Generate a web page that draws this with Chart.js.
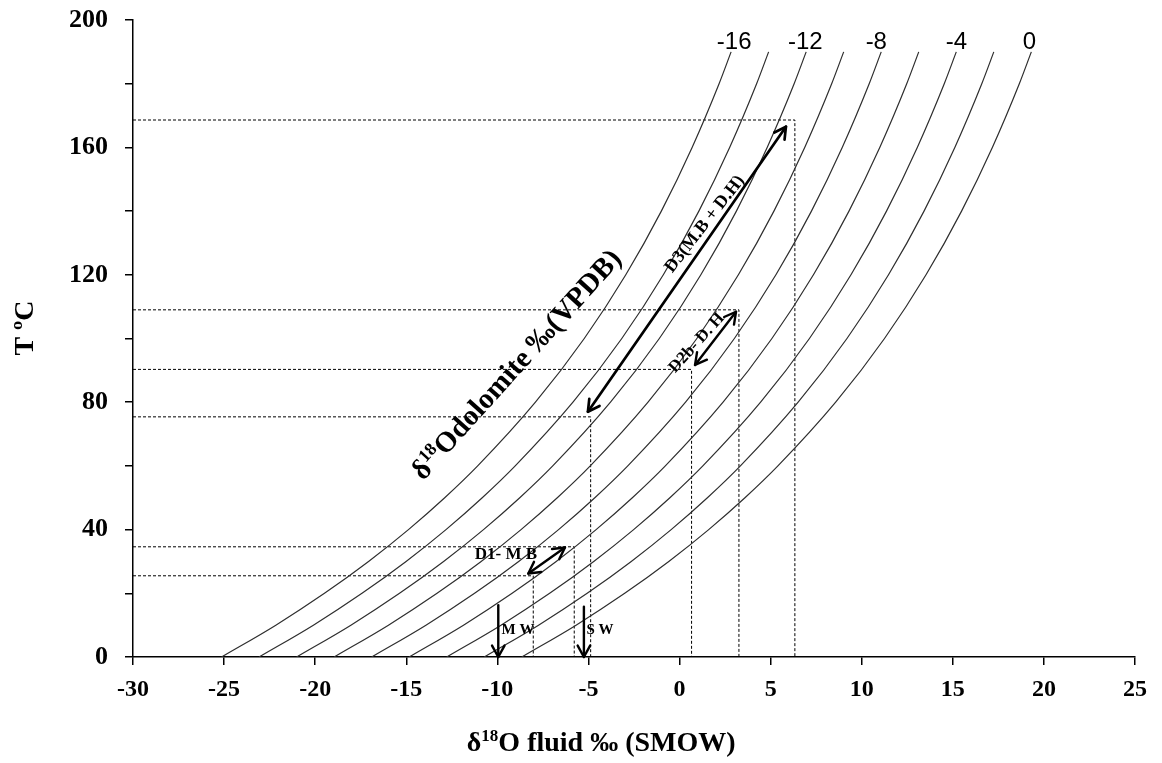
<!DOCTYPE html>
<html>
<head>
<meta charset="utf-8">
<script src="https://cdn.jsdelivr.net/npm/chart.js@4.4.1/dist/chart.umd.min.js"></script>
<style>
html, body { margin: 0; padding: 0; background: #fff; }
#wrap { width: 1162px; height: 763px; position: relative; }
</style>
</head>
<body>
<div id="wrap"><canvas id="chart"></canvas></div>
<script>
// temperature steps (°C) for the dolomite-water curves
const tempC = [0, 10, 20, 30, 40, 50, 60, 80, 100, 120, 140, 160, 180, 190];

// δ18O fluid (SMOW) read along each δ18O dolomite (VPDB) curve
const fluidDolM16 = [-25.14, -22.16, -19.49, -17.07, -14.88, -12.89, -11.08, -7.91, -5.23, -2.95, -1.00, 0.69, 2.17, 2.83];
const fluidDolM14 = [-23.08, -20.10, -17.43, -15.01, -12.82, -10.83, -9.02, -5.85, -3.17, -0.89, 1.06, 2.75, 4.23, 4.89];
const fluidDolM12 = [-21.02, -18.04, -15.37, -12.95, -10.76, -8.77, -6.96, -3.79, -1.11, 1.17, 3.12, 4.81, 6.29, 6.95];
const fluidDolM10 = [-18.96, -15.98, -13.31, -10.89, -8.70, -6.71, -4.90, -1.73, 0.95, 3.23, 5.18, 6.87, 8.35, 9.01];
const fluidDolM8  = [-16.90, -13.92, -11.25, -8.83, -6.64, -4.65, -2.84, 0.33, 3.01, 5.29, 7.24, 8.93, 10.41, 11.07];
const fluidDolM6  = [-14.84, -11.86, -9.19, -6.77, -4.58, -2.59, -0.78, 2.39, 5.07, 7.35, 9.30, 10.99, 12.47, 13.13];
const fluidDolM4  = [-12.78, -9.80, -7.13, -4.71, -2.52, -0.53, 1.28, 4.45, 7.13, 9.41, 11.36, 13.05, 14.53, 15.19];
const fluidDolM2  = [-10.72, -7.74, -5.07, -2.65, -0.46, 1.53, 3.34, 6.51, 9.19, 11.47, 13.42, 15.11, 16.59, 17.25];
const fluidDol0   = [-8.66, -5.68, -3.01, -0.59, 1.60, 3.59, 5.40, 8.57, 11.25, 13.53, 15.48, 17.17, 18.65, 19.31];
const curves = [fluidDolM16, fluidDolM14, fluidDolM12, fluidDolM10, fluidDolM8, fluidDolM6, fluidDolM4, fluidDolM2, fluidDol0];

// curve labels (δ18O dolomite VPDB)
const curveLabelText = ['-16', '-12', '-8', '-4', '0'];
const curveLabelX = [3.0, 6.9, 10.8, 15.2, 19.2];
const curveLabelT = 193;

// dashed read-off lines: temperature and fluid value
const guideT = [168.6, 109.0, 90.3, 75.4, 34.6, 25.5];
const guideX = [6.33, 3.26, 0.66, -4.88, -5.78, -8.03];

// arrows (from -> to), both = arrowhead on both ends
const arrowName = ['D3', 'D2b', 'D1', 'MW', 'SW'];
const arrowX1 = [-5.03, 0.85, -8.3, -9.95, -5.25];
const arrowT1 = [77.0, 91.7, 26.2, 16.3, 15.8];
const arrowX2 = [5.84, 3.1, -6.29, -9.95, -5.25];
const arrowT2 = [166.5, 108.4, 34.4, 0, 0];
const arrowBoth = [true, true, true, false, false];

// notes
const noteText = ['D1- M B', 'D2b- D. H', 'D3(M.B + D.H)', 'M W', 'S W'];
const noteX = [-9.53, 0.95, 1.39, -8.87, -4.37];
const noteT = [32.0, 98.6, 135.9, 8.5, 8.5];

const SERIF = '"Liberation Serif", "Times New Roman", serif';
const SANS = '"Liberation Sans", Arial, sans-serif';

const datasets = [];
curves.forEach((xs) => {
    datasets.push({
        data: xs.map((v, i) => ({ x: v, y: tempC[i] })),
        borderColor: '#2e2e2e',
        borderWidth: 1.2,
        pointRadius: 0,
        showLine: true,
        cubicInterpolationMode: 'monotone'
    });
});
guideT.forEach((t, i) => {
    datasets.push({
        data: [{ x: -30, y: t }, { x: guideX[i], y: t }, { x: guideX[i], y: 0 }],
        borderColor: '#000',
        borderWidth: 1,
        borderDash: [3, 2],
        pointRadius: 0,
        showLine: true,
        tension: 0
    });
});

// draw text with a superscript part, centred on (0,0)
function richText(ctx, parts, size) {
    const supSize = Math.round(size * 0.62);
    let w = 0;
    parts.forEach(p => {
        ctx.font = 'bold ' + (p[1] ? supSize : size) + 'px ' + SERIF;
        w += ctx.measureText(p[0]).width;
    });
    let cx = -w / 2;
    ctx.textAlign = 'left';
    ctx.textBaseline = 'alphabetic';
    parts.forEach(p => {
        ctx.font = 'bold ' + (p[1] ? supSize : size) + 'px ' + SERIF;
        ctx.fillText(p[0], cx, p[1] ? size * 0.33 - size * 0.36 : size * 0.33);
        cx += ctx.measureText(p[0]).width;
    });
}

function head(ctx, xa, ya, xb, yb) {
    const ang = Math.atan2(yb - ya, xb - xa);
    const len = 13, spread = 0.5;
    ctx.beginPath();
    ctx.moveTo(xb - len * Math.cos(ang - spread), yb - len * Math.sin(ang - spread));
    ctx.lineTo(xb, yb);
    ctx.lineTo(xb - len * Math.cos(ang + spread), yb - len * Math.sin(ang + spread));
    ctx.stroke();
}

const noteStyle = {
    'D1- M B': { size: 17, rot: 0 },
    'D2b- D. H': { size: 17, rot: -48 },
    'D3(M.B + D.H)': { size: 18, rot: -52 },
    'M W': { size: 15, rot: 0 },
    'S W': { size: 15, rot: 0 }
};

const annotate = {
    id: 'annotate',
    afterDatasetsDraw(chart) {
        const { ctx, scales: { x, y } } = chart;
        ctx.save();
        ctx.strokeStyle = '#000';
        ctx.fillStyle = '#000';
        ctx.lineCap = 'round';
        ctx.lineJoin = 'round';

        // arrows
        arrowName.forEach((name, i) => {
            const xa = x.getPixelForValue(arrowX1[i]), ya = y.getPixelForValue(arrowT1[i]);
            const xb = x.getPixelForValue(arrowX2[i]), yb = y.getPixelForValue(arrowT2[i]);
            ctx.lineWidth = name === 'D3' ? 2.7 : 2.4;
            ctx.beginPath();
            ctx.moveTo(xa, ya);
            ctx.lineTo(xb, yb);
            ctx.stroke();
            head(ctx, xa, ya, xb, yb);
            if (arrowBoth[i]) head(ctx, xb, yb, xa, ya);
        });

        // notes
        noteText.forEach((t, i) => {
            const st = noteStyle[t];
            ctx.save();
            ctx.translate(x.getPixelForValue(noteX[i]), y.getPixelForValue(noteT[i]));
            ctx.rotate(st.rot * Math.PI / 180);
            ctx.font = 'bold ' + st.size + 'px ' + SERIF;
            ctx.textAlign = 'center';
            ctx.textBaseline = 'middle';
            ctx.fillText(t, 0, 0);
            ctx.restore();
        });

        // big rotated label
        ctx.save();
        ctx.translate(x.getPixelForValue(-8.98), y.getPixelForValue(92.0));
        ctx.rotate(-48 * Math.PI / 180);
        richText(ctx, [['δ', false], ['18', true], ['Odolomite ‰(VPDB)', false]], 29);
        ctx.restore();

        // curve labels
        ctx.font = '24px ' + SANS;
        ctx.textAlign = 'center';
        ctx.textBaseline = 'middle';
        curveLabelText.forEach((t, i) => {
            ctx.fillText(t, x.getPixelForValue(curveLabelX[i]), y.getPixelForValue(curveLabelT));
        });

        // axis titles
        ctx.save();
        ctx.translate(x.getPixelForValue(-4.3), x.bottom - 21);
        richText(ctx, [['δ', false], ['18', true], ['O fluid ‰ (SMOW)', false]], 28);
        ctx.restore();

        ctx.save();
        ctx.translate(y.left + 24, y.getPixelForValue(103.3));
        ctx.rotate(-Math.PI / 2);
        richText(ctx, [['T ºC', false]], 28);
        ctx.restore();

        ctx.restore();
    }
};

new Chart(document.getElementById('chart'), {
    type: 'scatter',
    data: { datasets: datasets },
    options: {
        responsive: true,
        maintainAspectRatio: false,
        animation: false,
        layout: { padding: { top: 20, right: 27, left: 0, bottom: 0 } },
        plugins: {
            legend: { display: false },
            tooltip: { enabled: false }
        },
        scales: {
            x: {
                type: 'linear',
                min: -30,
                max: 25,
                afterFit: (s) => { s.height = 106; s.paddingLeft = 0; s.paddingRight = 0; },
                border: { display: true, color: '#000', width: 1.5 },
                grid: { drawOnChartArea: false, drawTicks: true, tickLength: 8, color: '#000', lineWidth: 1.5 },
                ticks: {
                    stepSize: 5,
                    autoSkip: false,
                    maxRotation: 0,
                    color: '#000',
                    padding: 10,
                    font: { family: SERIF, size: 24, weight: 'bold' }
                }
            },
            y: {
                type: 'linear',
                min: 0,
                max: 200,
                afterFit: (s) => { s.width = 133; s.paddingTop = 0; s.paddingBottom = 0; },
                border: { display: true, color: '#000', width: 1.5 },
                grid: { drawOnChartArea: false, drawTicks: true, tickLength: 8, color: '#000', lineWidth: 1.5 },
                ticks: {
                    stepSize: 20,
                    autoSkip: false,
                    color: '#000',
                    padding: 17,
                    font: { family: SERIF, size: 26, weight: 'bold' },
                    callback: (v) => (v % 40 === 0 ? String(v) : '')
                }
            }
        }
    },
    plugins: [annotate]
});
</script>
</body>
</html>
